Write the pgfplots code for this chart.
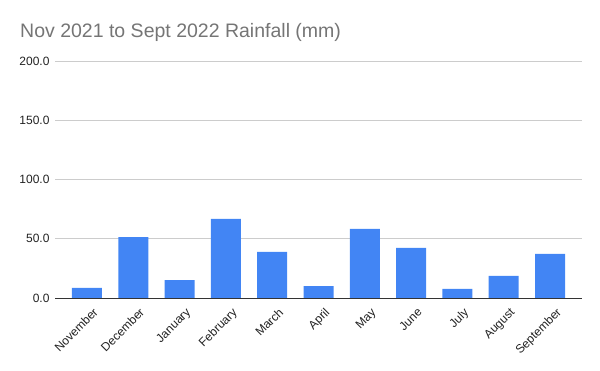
\documentclass[border=0pt]{standalone}
\usepackage{fontspec}
\setmainfont{Liberation Sans}
\usepackage{pgfplots}
\pgfplotsset{compat=1.18}
\definecolor{barblue}{HTML}{4285F4}
\definecolor{titlegray}{HTML}{757575}
\definecolor{gridgray}{HTML}{CCCCCC}
\definecolor{labelgray}{HTML}{222222}
\definecolor{axisdark}{HTML}{333333}
\begin{document}
\begin{tikzpicture}[x=1pt,y=1pt]
\path[use as bounding box] (0,0) rectangle (600,371);
\node[anchor=base west, inner sep=0pt, text=titlegray, font=\fontsize{19.5}{22}\selectfont] at (20,333) {Nov 2021 to Sept 2022 Rainfall (mm)};
\begin{axis}[
  at={(55pt,73pt)}, anchor=south west,
  scale only axis, width=527pt, height=236.7pt,
  ybar, bar width=30pt,
  xmin=-0.69, xmax=10.69,
  ymin=0, ymax=200,
  ytick={0,50,100,150,200},
  xtick=data,
  xticklabels={November,December,January,February,March,April,May,June,July,August,September},
  major tick length=0pt,
  axis lines=left,
  axis line style={-},
  y axis line style={draw=none},
  x axis line style={draw=axisdark, line width=0.9pt},
  ymajorgrids, grid style={gridgray, line width=0.8pt},
  /pgf/number format/assume math mode=true,
  yticklabel style={/pgf/number format/.cd, fixed, fixed zerofill, precision=1, /tikz/.cd, font=\fontsize{12}{14}\selectfont, text=labelgray, xshift=-2pt},
  xticklabel style={rotate=45, anchor=north east, font=\fontsize{12}{14}\selectfont, text=labelgray, xshift=1pt, yshift=-7pt},
]
\addplot[fill=barblue, draw=none] coordinates {
 (0,8.5) (1,51.5) (2,15.2) (3,66.8) (4,38.9) (5,10.1)
 (6,58.3) (7,42.3) (8,7.6) (9,18.6) (10,37.2)
};
\end{axis}
\end{tikzpicture}
\end{document}
